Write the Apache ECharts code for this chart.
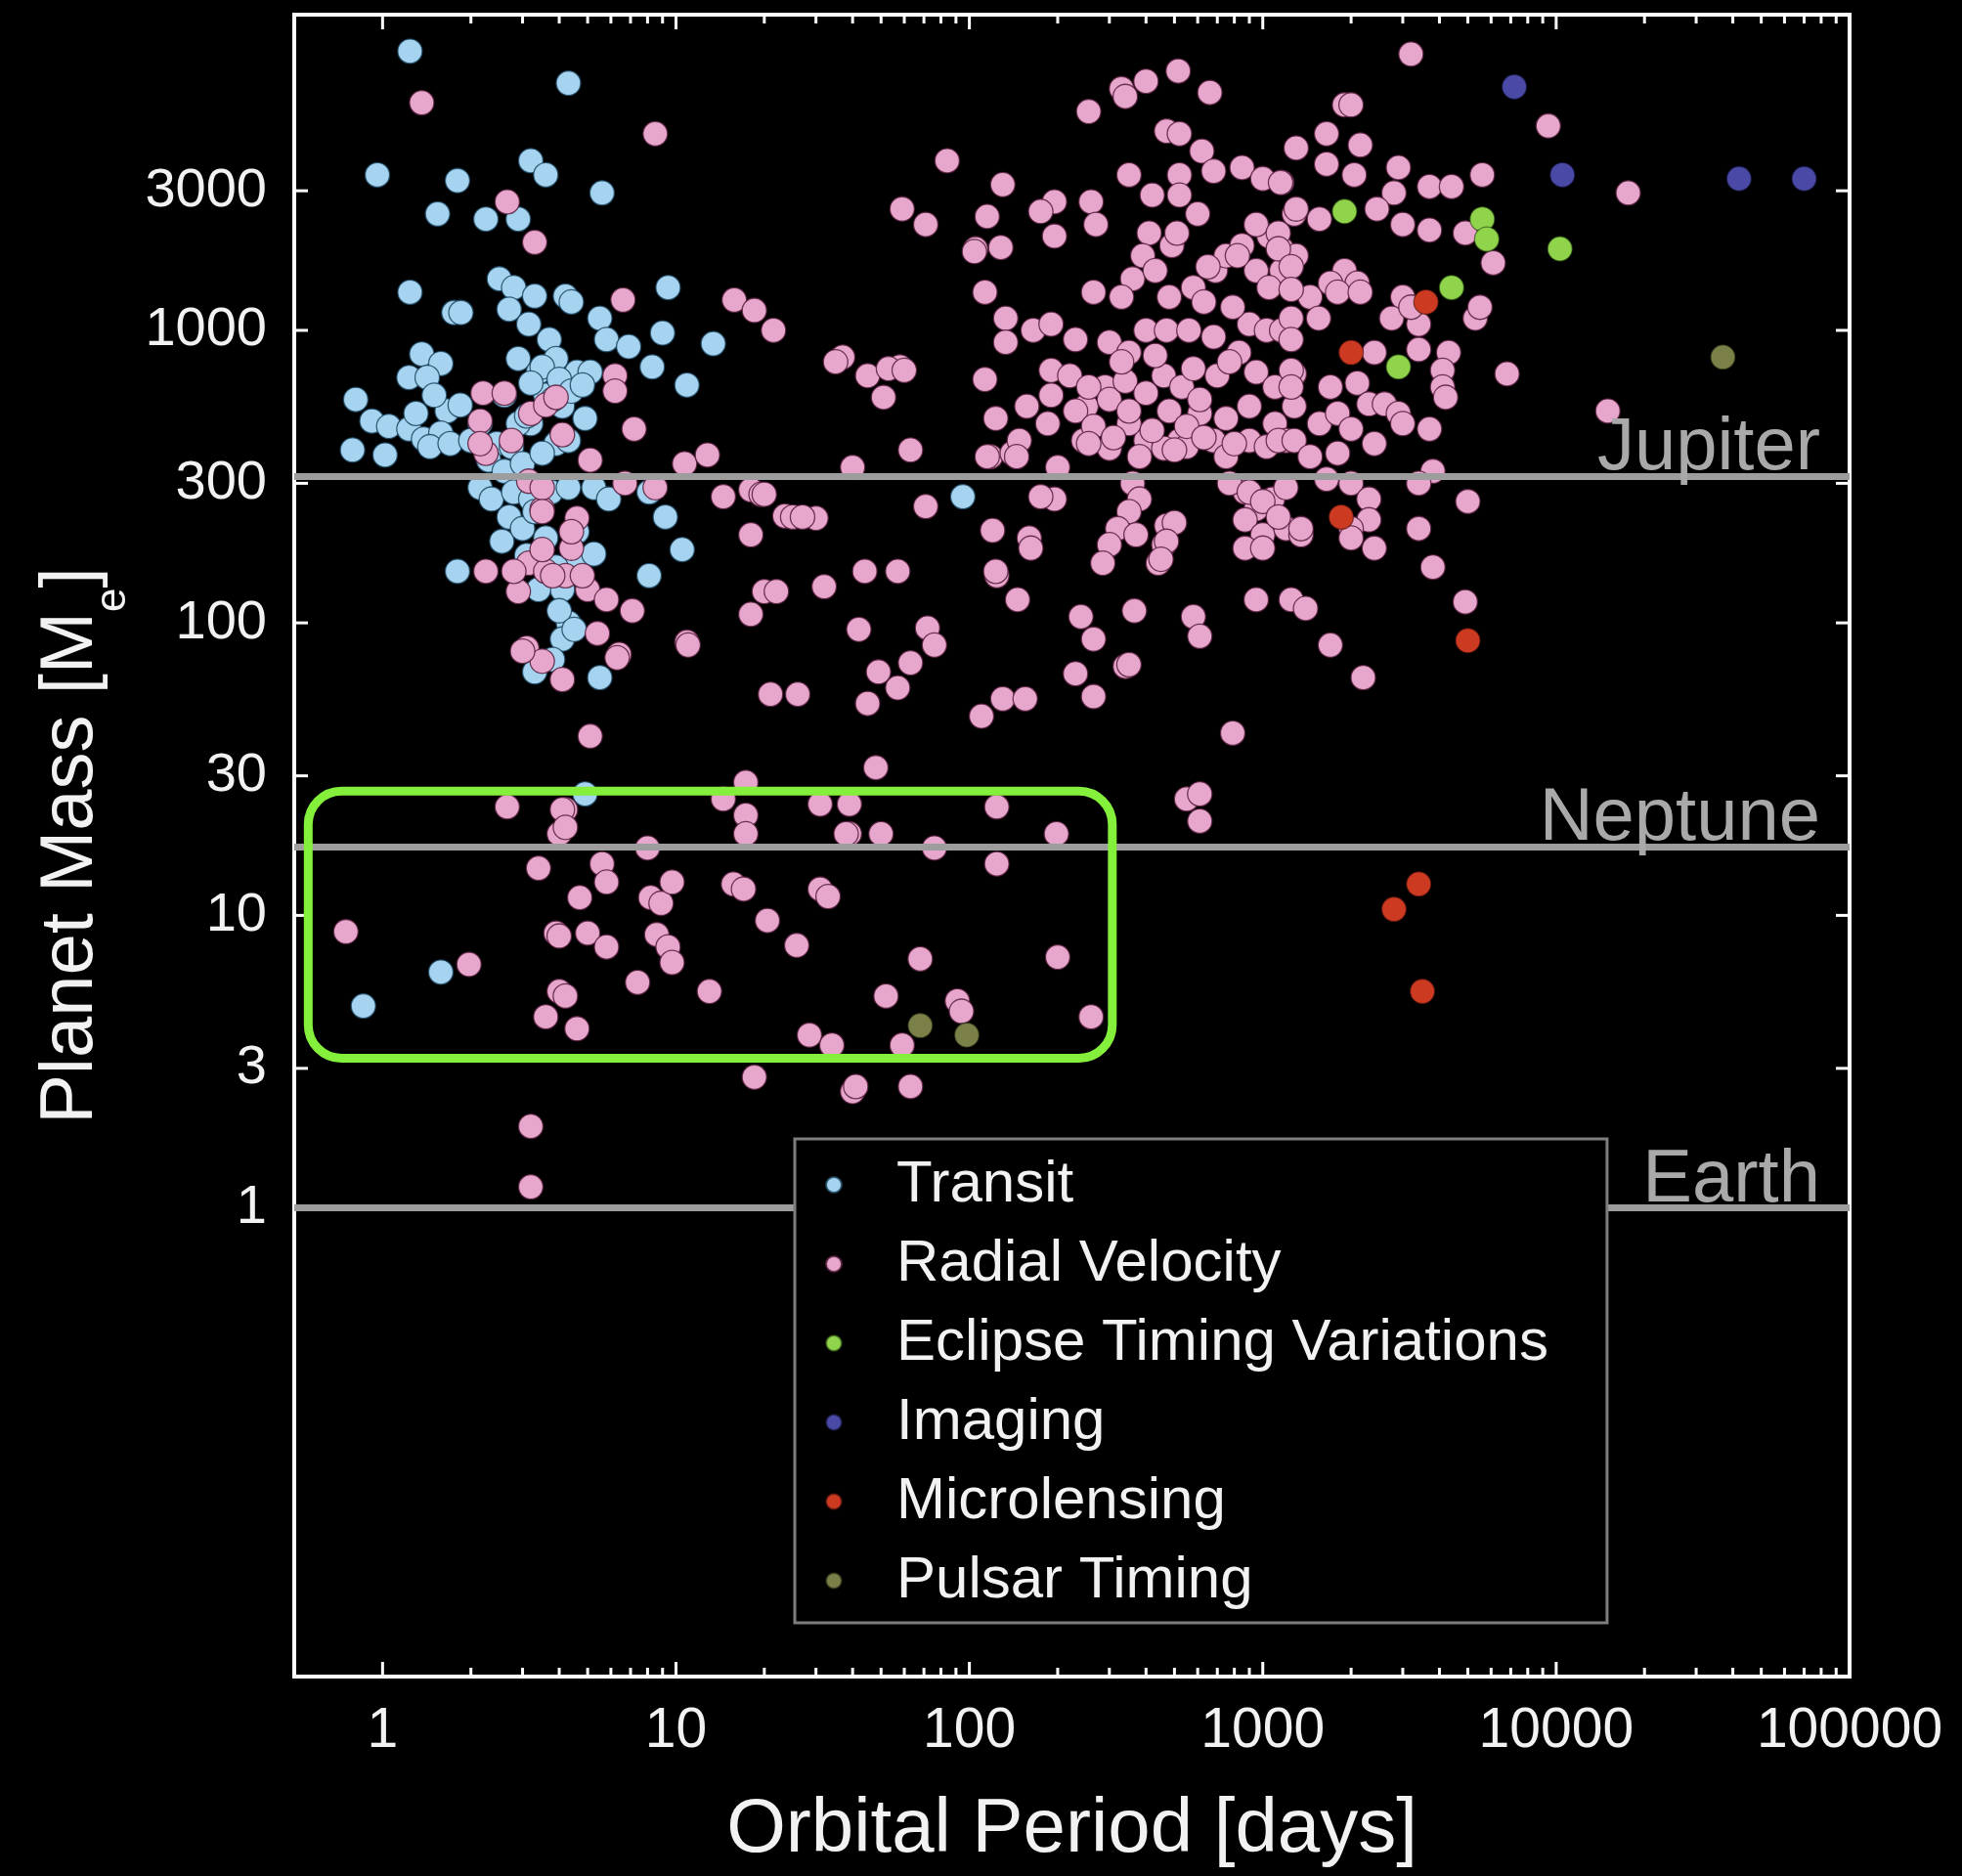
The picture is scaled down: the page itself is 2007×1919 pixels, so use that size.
<!DOCTYPE html>
<html>
<head>
<meta charset="utf-8">
<title>Exoplanets: mass vs orbital period</title>
<script src="https://cdn.jsdelivr.net/npm/echarts@6/dist/echarts.min.js"></script>
<style>
  html, body { margin: 0; padding: 0; background: #000; }
  #chart { width: 2007px; height: 1919px; }
</style>
</head>
<body>
<div id="chart"></div>
<script>
// [orbital period (days), planet mass (Earth masses)]
const transitPts = [
  [1.24,9000],[4.3,7000],[0.96,3400],[1.8,3250],[3.2,3800],[3.6,3400],[5.6,2950],[1.54,2500],[2.25,2400],[2.9,2400],
  [1.24,1350],[1.75,1150],[1.85,1150],[2.5,1500],[2.8,1400],[3.3,1310],[4.2,1310],[4.4,1250],[2.7,1180],[3.15,1050],[3.7,930],
  [9.4,1400],[5.5,1100],[5.8,930],[6.9,880],[9.0,980],[8.3,750],[13.4,900],[10.9,650],
  [1.36,830],[1.58,770],[1.23,690],[1.42,690],[0.81,580],[0.92,490],[1.05,470],[1.23,460],[1.38,425],[0.79,390],[1.02,375],
  [1.66,530],[1.58,445],[1.84,555],[1.5,600],[1.3,520],[1.45,400],[1.7,410],
  [2.9,800],[3.4,720],[3.9,800],[4.6,720],[5.1,720],[3.6,600],[4.1,550],[3.2,480],[2.9,480],[3.9,410],[2.45,410],[2.75,400],[3.1,510],[2.15,480],
  [3.5,750],[4.0,680],[4.4,620],[3.8,580],[4.8,650],[3.2,660],[2.6,600],[2.0,420],[2.3,360],[2.6,330],[3.0,350],[3.5,380],[4.3,420],[4.9,500],
  [2.15,290],[2.35,265],[2.8,280],[3.2,265],[3.75,280],[4.3,290],[5.25,290],[5.9,265],[8.1,280],[9.2,230],[10.5,178],[8.1,145],
  [2.55,190],[1.8,150],[4.1,130],[4.6,168],[5.25,172],[4.3,100],[4.1,88],[5.5,65],
  [2.7,230],[3.0,210],[3.3,240],[3.6,195],[3.1,170],[3.9,155],[4.6,205],[3.4,130],[4.0,110],[4.5,95],[3.8,75],[3.3,68],
  [95,270],[0.86,4.9],[1.58,6.4],[4.9,26]
];

const radialVelocityPts = [
  // short periods
  [1.36,6000],[8.5,4700],[2.66,2750],[3.3,2000],[6.6,1270],[15.8,1270],[18.5,1170],[21.5,1000],
  [6.2,700],[6.2,620],[7.2,460],[10.7,350],[12.8,375],[14.5,270],[18,285],[23.5,232],[18,200],
  [2.2,610],[2.6,610],[2.15,490],[2.25,380],[4.1,440],[5.1,360],[3.15,305],[3.5,245],[4.6,228],[4.4,180],
  [2.25,150],[3.15,160],[3.6,150],[4.2,145],[5.0,130],[5.8,120],[7.1,110],[2.9,128],[5.4,92],
  [3.1,82],[3.5,74],[4.1,64],[6.4,78],[10.9,86],[20,128],[18,107],[21,57],[5.1,41],[4.2,23],
  [3.2,520],[3.6,555],[3.9,590],[2.75,420],[2.15,410],[6.7,300],[8.5,290],
  [3.5,290],[3.5,240],[4.4,205],[3.5,178],[2.8,150],[3.8,145],[4.8,145],[3.0,80],[6.3,76],
  // intermediate periods
  [19.5,275],[25,230],[30,228],[71,250],[120,207],[160,195],[162,180],[195,265],[175,270],
  [44,150],[57,150],[32,133],[22,128],[11,84],[42,95],[72,96],[76,84],
  [63,73],[49,68],[57,60],[45,53],[26,57],[124,145],[146,120],
  [240,105],[265,88],[365,110],[340,71],[230,67],[265,56],[110,48],[130,55],[155,55],[48,32],
  [40,340],[63,390],[118,370],[140,380],[200,340],[123,150],[20,275],[27,230],
  [84,3800],[59,2600],[71,2300],[105,1900],[128,1920],[130,3150],[115,2450],[104,1860],
  [37,810],[45,700],[51,590],[58,750],[53,740],[60,730],[35,780],
  [195,2750],[175,2550],[195,2100],[260,2750],[270,2300],
  [113,1350],[133,1100],[133,910],[165,1000],[190,1050],[230,930],[190,730],[190,600],[185,480],[157,550],[123,500],[113,680],[148,420],
  [115,370],[145,370],
  // main cluster
  [515,7700],[660,6500],[400,7100],[330,6700],[340,6300],[255,5600],
  [470,4800],[520,4700],[620,4100],[680,3500],[850,3600],[1000,3300],[1160,3200],[1300,4200],
  [350,3400],[420,2900],[520,3400],[520,2900],[600,2500],
  [410,2150],[490,1950],[510,2150],[390,1800],[360,1500],[430,1600],
  [265,1350],[330,1300],[480,1300],
  [580,1400],[630,1250],[690,1600],[750,1800],[850,1950],[1050,2100],[1160,1900],[1280,2500],
  [650,1650],[950,1600],[1160,1600],[1300,1800],
  [300,910],[350,840],
  [400,1000],[470,1000],[560,1000],[680,950],[830,840],[900,1050],[1030,1000],[1160,1000],
  [950,720],[1100,640],[1280,710],[900,550],[1100,480],[1280,550],[900,420],[1030,400],[1200,420],
  [610,520],[680,420],[750,370],[520,420],[400,420],[350,480],[290,640],[250,550],[245,420],
  [300,395],[380,370],[460,395],[550,400],
  [360,300],[380,265],[350,240],[320,210],[300,185],[285,160],[370,200],[470,215],[460,185],[440,160],
  [870,280],[950,245],[1080,265],[870,225],[1000,200],[1200,210],[870,180],[1000,180],[1350,200],
  [220,700],[255,640],[300,580],[340,670],[400,610],[460,700],[530,640],[610,580],[700,700],
  [230,530],[265,470],[310,430],[350,530],[420,455],[480,530],[550,470],[630,430],[750,500],
  [330,780],[430,820],[580,740],[770,780],[800,410],[255,410],[500,390],
  [950,2300],[820,1800],[1050,1400],[1450,1300],[1550,1100],[790,1200],[1650,3700],
  [770,300],[900,280],[1000,260],[1200,290],
  // long periods
  [3200,8800],[9400,5000],[17600,2950],[15000,530],[6800,710],
  [1900,5900],[2000,5900],[1650,4700],[2150,4300],[2050,3400],[2900,3600],[2800,2950],[3700,3100],[4400,3100],[5600,3400],[1150,3200],
  [1300,2600],[1560,2400],[2450,2600],[3000,2300],[3700,2200],[4900,2150],[6100,1700],[1130,2150],[1130,1900],
  [1250,1650],[1250,1380],[1250,1100],[1250,930],[1250,730],[1250,640],
  [1900,1600],[1700,1450],[2100,1450],[1800,1350],[2150,1350],
  [3000,1300],[2750,1100],[3400,1050],[3200,1200],[5300,1100],[5500,1200],
  [2400,840],[3400,860],[4300,840],[4100,730],[4100,640],[4200,590],
  [1700,640],[2100,660],[2300,560],[2600,560],[2900,520],
  [1560,480],[1800,520],[2000,460],[2400,410],[3000,480],[3700,460],
  [1130,420],[1280,420],[1450,370],[1800,380],
  [1650,310],[2000,300],[3800,330],[3400,300],[5000,260],
  [2300,265],[2300,225],[2000,210],[2400,180],[1350,210],[1130,230],[3400,210],[3800,155],[2000,195],
  [4900,118],[1700,84],[2200,65],[790,42],[550,25],[610,26],[610,21],
  [580,105],[610,90],[350,72],[950,120],[1250,120],[1400,112],[500,220],[470,190],[450,165],
  // low mass
  [0.75,8.8],[1.97,6.8],[2.66,23.5],[4.1,23],[4.0,19],[4.2,20],[3.4,14.5],[4.7,11.5],[5.6,15],[5.8,13],
  [3.9,8.7],[4.0,8.5],[5.0,8.7],[5.8,7.8],[4.0,5.5],[4.2,5.3],[3.6,4.5],[4.6,4.1],[7.4,5.9],[8.0,17],
  [8.2,11.5],[8.9,11],[9.7,13],[8.6,8.6],[9.4,7.8],[9.7,6.9],[13,5.5],[15.7,12.8],[17,12.3],[17.3,28.5],
  [17.3,22],[17.3,19],[20.5,9.6],[25.8,7.9],[31,12.3],[33,11.6],[28.5,3.9],[31,24],[39,24],[39,19],
  [50,19],[52,5.3],[68,7.1],[91,5.1],[94,4.7],[76,17],[124,23.5],[124,15],[198,19],[200,7.2],
  [260,4.5],[18.5,2.8],[40,2.5],[41,2.6],[63,2.6],[3.2,1.9],[3.2,1.18],[34,3.6],[59,3.6],[14.5,25],[38,19]
];

const eclipseTimingPts = [[1900,2550],[5600,2400],[5800,2050],[4400,1400],[2900,750],[10300,1900]];
const imagingPts = [[7200,6800],[10500,3400],[42000,3300],[70000,3300]];
const microlensingPts = [[2000,840],[3600,1250],[1850,230],[5000,87],[3400,12.8],[2800,10.5],[3500,5.5]];
const pulsarPts = [[37000,810],[68,4.2],[98,3.9]];

// reference planets
const refPlanets = ['Jupiter', 'Neptune', 'Earth'];
const refMasses = [317.8, 17.15, 1];

// highlighted region: [period min, mass min, period max, mass max]
const highlightBox = [0.558, 3.25, 307, 26.6];

// axes
const xMin = 0.5, xMax = 100000, yMin = 0.025, yMax = 12000;
const xMajorTicks = [1, 10, 100, 1000, 10000, 100000];
const xTickLabels = ['1', '10', '100', '1000', '10000', '100000'];
const xMinorTicks = [
  2, 3, 4, 5, 6, 7, 8, 9,
  20, 30, 40, 50, 60, 70, 80, 90,
  200, 300, 400, 500, 600, 700, 800, 900,
  2000, 3000, 4000, 5000, 6000, 7000, 8000, 9000,
  20000, 30000, 40000, 50000, 60000, 70000, 80000, 90000
];
const yTicks = [1, 3, 10, 30, 100, 300, 1000, 3000];
const yTickLabels = ['1', '3', '10', '30', '100', '300', '1000', '3000'];

const FONT = '"Liberation Sans", Arial, sans-serif';
const TEXT = '#f2f2f2';

const chart = echarts.init(document.getElementById('chart'));

function scatter(name, pts, color, border) {
  return {
    name: name,
    type: 'scatter',
    data: pts,
    symbol: 'circle',
    symbolSize: 25,
    z: 2,
    itemStyle: { color: color, borderColor: border, borderWidth: 1.3, opacity: 1 },
    emphasis: { disabled: true }
  };
}

const xTickData = xMajorTicks.map((v, i) => [v, yMin, 1, i])
  .concat(xMinorTicks.map(v => [v, yMin, 0, -1]));
const yTickData = yTicks.map((v, i) => [xMin, v, i]);

const option = {
  backgroundColor: '#000',
  animation: false,
  grid: {
    left: 301, right: 115, top: 15, bottom: 204,
    show: true, borderColor: '#fff', borderWidth: 4, backgroundColor: 'transparent'
  },
  xAxis: {
    type: 'log', logBase: 10, min: xMin, max: xMax,
    name: 'Orbital Period [days]', nameLocation: 'middle', nameGap: 118,
    nameTextStyle: { color: TEXT, fontSize: 78, fontFamily: FONT },
    axisLine: { show: false }, axisTick: { show: false }, axisLabel: { show: false },
    splitLine: { show: false }, minorTick: { show: false }
  },
  yAxis: {
    type: 'log', logBase: 10, min: yMin, max: yMax,
    name: '{b|Planet Mass [M}{s|e}{b|]}', nameLocation: 'middle', nameGap: 163, nameRotate: 90,
    nameTextStyle: {
      color: TEXT, fontSize: 76, fontFamily: FONT,
      rich: {
        b: { color: TEXT, fontSize: 76, lineHeight: 130, fontFamily: FONT },
        s: { color: TEXT, fontSize: 44, lineHeight: 44, verticalAlign: 'bottom', fontFamily: FONT }
      }
    },
    axisLine: { show: false }, axisTick: { show: false }, axisLabel: { show: false },
    splitLine: { show: false }, minorTick: { show: false }
  },
  legend: {
    orient: 'vertical',
    left: 813, top: 1165,
    z: 20,
    padding: [17, 60, 13, 31],
    itemGap: 21, itemWidth: 16, itemHeight: 16,
    icon: 'circle',
    backgroundColor: '#000',
    borderColor: '#7d7d7d', borderWidth: 3,
    selectedMode: false,
    textStyle: { color: TEXT, fontSize: 60, lineHeight: 60, fontFamily: FONT, padding: [0, 0, 0, 51] },
    data: ['Transit', 'Radial Velocity', 'Eclipse Timing Variations', 'Imaging', 'Microlensing', 'Pulsar Timing']
  },
  series: [
    scatter('Transit', transitPts, '#a6d3f0', 'rgba(30,70,95,0.85)'),
    scatter('Radial Velocity', radialVelocityPts, '#e7a7cc', 'rgba(85,30,60,0.85)'),
    scatter('Eclipse Timing Variations', eclipseTimingPts, '#8fd44b', 'rgba(40,70,20,0.6)'),
    scatter('Imaging', imagingPts, '#4a4aa6', 'rgba(20,20,60,0.6)'),
    scatter('Microlensing', microlensingPts, '#cc3a22', 'rgba(70,15,10,0.6)'),
    scatter('Pulsar Timing', pulsarPts, '#7b8048', 'rgba(35,35,15,0.6)'),
    {
      name: 'xTicks',
      type: 'custom',
      clip: false,
      silent: true,
      z: 3,
      data: xTickData,
      encode: { x: 0, y: 1 },
      renderItem: function (params, api) {
        const v = api.value(0);
        const major = api.value(2) === 1;
        const b = api.coord([v, yMin]);
        const t = api.coord([v, yMax]);
        const len = major ? 15 : 9;
        const st = { stroke: '#fff', lineWidth: 3 };
        const children = [
          { type: 'line', shape: { x1: b[0], y1: b[1], x2: b[0], y2: b[1] - len }, style: st },
          { type: 'line', shape: { x1: t[0], y1: t[1], x2: t[0], y2: t[1] + len }, style: st }
        ];
        if (major) {
          children.push({
            type: 'text',
            style: {
              x: b[0], y: b[1] + 56, text: xTickLabels[api.value(3)],
              fill: TEXT, fontSize: 57, fontFamily: FONT, align: 'center', verticalAlign: 'middle'
            }
          });
        }
        return { type: 'group', children: children };
      },
      markLine: {
        silent: true,
        symbol: ['none', 'none'],
        lineStyle: { color: '#9d9d9d', width: 7, type: 'solid', opacity: 1 },
        label: {
          show: true, position: 'insideEndTop', formatter: '{b}',
          color: '#a9a9a9', fontSize: 76, fontFamily: FONT, distance: [30, -10]
        },
        emphasis: { disabled: true },
        data: refPlanets.map((n, i) => ({ name: n, yAxis: refMasses[i] }))
      }
    },
    {
      name: 'yTicks',
      type: 'custom',
      clip: false,
      silent: true,
      z: 3,
      data: yTickData,
      encode: { x: 0, y: 1 },
      renderItem: function (params, api) {
        const v = api.value(1);
        const l = api.coord([xMin, v]);
        const r = api.coord([xMax, v]);
        const st = { stroke: '#fff', lineWidth: 3 };
        return {
          type: 'group',
          children: [
            { type: 'line', shape: { x1: l[0], y1: l[1], x2: l[0] + 14, y2: l[1] }, style: st },
            { type: 'line', shape: { x1: r[0], y1: r[1], x2: r[0] - 14, y2: r[1] }, style: st },
            {
              type: 'text',
              style: {
                x: l[0] - 28, y: l[1], text: yTickLabels[api.value(2)],
                fill: TEXT, fontSize: 56, fontFamily: FONT, align: 'right', verticalAlign: 'middle'
              }
            }
          ]
        };
      }
    },
    {
      name: 'highlight',
      type: 'custom',
      clip: false,
      silent: true,
      z: 5,
      data: [highlightBox],
      encode: { x: [0, 2], y: [1, 3] },
      renderItem: function (params, api) {
        const p0 = api.coord([api.value(0), api.value(3)]);
        const p1 = api.coord([api.value(2), api.value(1)]);
        return {
          type: 'rect',
          shape: { x: p0[0], y: p0[1], width: p1[0] - p0[0], height: p1[1] - p0[1], r: 34 },
          style: { fill: 'none', stroke: '#84f03c', lineWidth: 9 }
        };
      }
    }
  ]
};

chart.setOption(option);
</script>
</body>
</html>
